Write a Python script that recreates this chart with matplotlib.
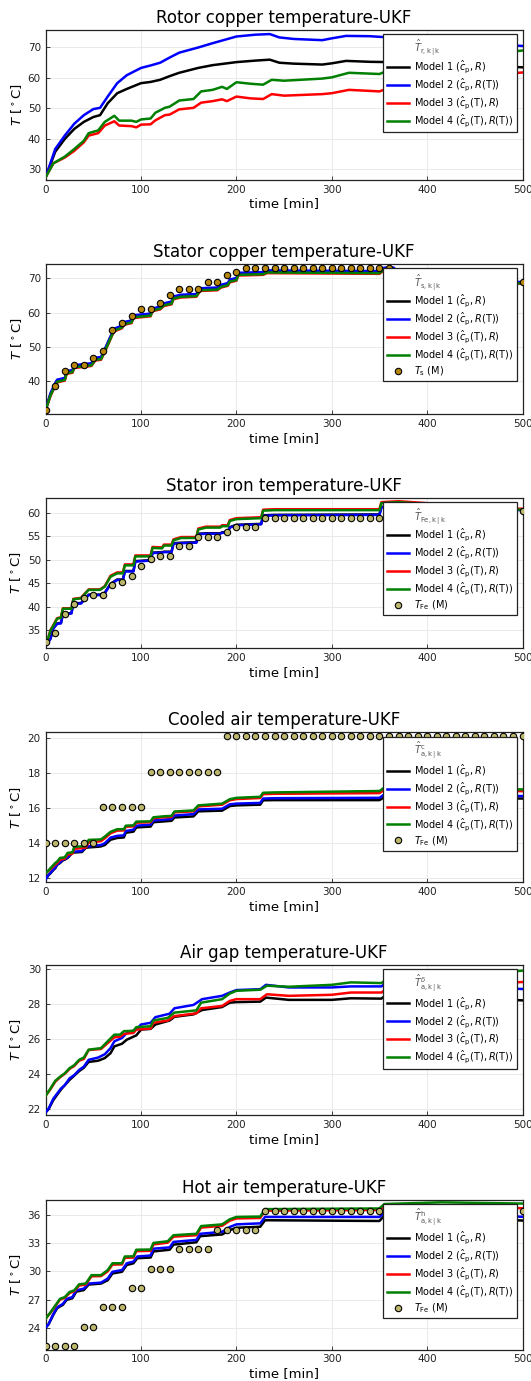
import numpy as np
import matplotlib.pyplot as plt
from matplotlib.lines import Line2D

# ---- rotor copper (no measurements) ----
rotor_t12 = [0, 10, 20, 30, 40, 50, 57, 65, 75, 85, 100, 110, 120, 130, 140, 160, 175, 200,
             220, 235, 245, 260, 290, 300, 315, 340, 360, 400, 450, 500]
rotor_m1 = [27.5, 35.8, 40.0, 43.3, 45.6, 47.2, 47.8, 51.7, 55.0, 56.4, 58.3, 58.7, 59.4, 60.6,
            61.7, 63.3, 64.2, 65.2, 65.7, 66.0, 65.0, 64.7, 64.4, 64.8, 65.6, 65.3, 65.2, 64.5,
            64.0, 63.5]
rotor_m2 = [27.5, 36.7, 41.1, 45.0, 47.8, 49.8, 50.2, 53.9, 58.3, 60.9, 63.3, 64.1, 65.0, 66.7,
            68.3, 70.0, 71.4, 73.6, 74.2, 74.4, 73.3, 72.8, 72.4, 73.0, 73.8, 73.7, 73.3, 72.5,
            71.5, 70.5]
rotor_t34 = [0, 8, 20, 30, 40, 45, 55, 62, 72, 77, 90, 95, 100, 110, 115, 125, 130, 140, 155,
             163, 175, 185, 190, 200, 215, 228, 237, 250, 290, 300, 318, 350, 360, 400, 450, 500]
rotor_m3 = [27.5, 32.0, 33.9, 36.1, 38.9, 41.1, 41.9, 44.4, 45.8, 44.4, 44.2, 43.8, 44.7, 44.8,
            46.1, 47.8, 48.0, 49.7, 50.2, 51.9, 52.4, 53.0, 52.4, 53.9, 53.3, 53.1, 54.7, 54.2,
            54.7, 55.0, 56.1, 55.6, 56.7, 58.5, 60.5, 61.8]
rotor_m4 = [27.5, 32.0, 34.2, 36.7, 39.4, 41.9, 42.8, 45.6, 47.6, 46.0, 46.0, 45.6, 46.4, 46.7,
            48.6, 50.2, 50.6, 52.6, 53.1, 55.6, 56.1, 57.1, 56.4, 58.6, 58.1, 57.8, 59.4, 59.1,
            59.8, 60.2, 61.7, 61.3, 62.6, 65.0, 67.5, 69.0]

# ---- stator copper ----
stcu_t = [0, 5, 10, 12, 20, 22, 28, 30, 48, 52, 58, 62, 70, 72, 80, 82, 90, 92, 110, 112, 120,
          124, 132, 134, 142, 158, 162, 180, 184, 191, 193, 200, 202, 228, 232, 350, 355, 365,
          375, 500]
stcu_m1 = [31.7, 36.2, 39.2, 40.2, 40.7, 42.7, 43.0, 44.4, 45.0, 46.6, 46.8, 49.1, 54.1, 55.1,
           56.0, 57.0, 57.5, 59.0, 59.5, 61.0, 61.5, 62.5, 63.0, 64.5, 65.0, 65.2, 66.9, 67.1,
           67.9, 68.4, 69.4, 69.9, 71.4, 71.6, 72.1, 71.9, 72.9, 72.9, 69.7, 68.8]
stcu_m2 = [31.8, 36.4, 39.4, 40.4, 40.9, 42.9, 43.2, 44.6, 45.2, 46.8, 47.0, 49.3, 54.3, 55.3,
           56.2, 57.2, 57.7, 59.2, 59.7, 61.2, 61.7, 62.7, 63.2, 64.7, 65.2, 65.4, 67.1, 67.3,
           68.1, 68.6, 69.6, 70.1, 71.6, 71.8, 72.3, 72.1, 73.1, 73.1, 69.9, 68.9]
stcu_m3 = [31.5, 35.6, 38.6, 39.6, 40.1, 42.1, 42.4, 43.8, 44.4, 46.0, 46.2, 48.5, 53.5, 54.5,
           55.4, 56.4, 56.9, 58.4, 58.9, 60.4, 60.9, 61.9, 62.4, 63.9, 64.4, 64.6, 66.3, 66.5,
           67.3, 67.8, 68.8, 69.3, 70.8, 71.0, 71.5, 71.3, 72.3, 72.3, 69.1, 68.4]
stcu_m4 = [31.5, 35.8, 38.8, 39.8, 40.3, 42.3, 42.6, 44.0, 44.6, 46.2, 46.4, 48.7, 53.7, 54.7,
           55.6, 56.6, 57.1, 58.6, 59.1, 60.6, 61.1, 62.1, 62.6, 64.1, 64.6, 64.8, 66.5, 66.7,
           67.5, 68.0, 69.0, 69.5, 71.0, 71.2, 71.7, 71.5, 72.5, 72.5, 69.3, 68.5]
stcu_meas = ([31.6, 38.5, 42.8, 44.8, 44.8, 46.7, 48.9, 54.9, 57.0, 59.0, 61.0, 61.0, 62.8,
              65.0, 66.9, 66.9, 66.9, 68.9, 68.9, 71.0, 71.7]
             + [73.0] * 16 + [68.8] * 14)

# ---- stator iron ----
stfe_t = [0, 3, 5, 8, 12, 16, 18, 27, 29, 37, 40, 45, 57, 62, 68, 75, 81, 83, 92, 94, 110, 112,
          122, 124, 132, 134, 142, 158, 160, 168, 183, 185, 191, 193, 200, 226, 228, 240, 350,
          352, 370, 420, 480, 500]
stfe_m1 = [31.9, 32.7, 33.3, 35.5, 36.5, 36.6, 38.5, 38.7, 40.8, 40.8, 41.5, 42.6, 42.6, 43.0,
           44.9, 45.8, 45.8, 47.6, 47.6, 49.7, 49.9, 51.5, 51.6, 51.7, 51.7, 53.5, 53.6, 53.7,
           55.5, 55.6, 55.6, 55.8, 55.9, 56.9, 57.4, 57.6, 59.4, 59.5, 59.6, 61.2, 61.3, 61.0,
           60.7, 60.6]
stfe_m2 = [31.9, 32.6, 33.2, 35.4, 36.4, 36.5, 38.4, 38.6, 40.7, 40.7, 41.4, 42.5, 42.5, 42.9,
           44.8, 45.7, 45.7, 47.5, 47.5, 49.6, 49.8, 51.4, 51.5, 51.6, 51.6, 53.4, 53.5, 53.6,
           55.4, 55.5, 55.5, 55.7, 55.8, 56.8, 57.3, 57.5, 59.3, 59.4, 59.5, 61.1, 61.2, 60.9,
           60.6, 60.5]
stfe_m3 = [32.5, 33.6, 35.1, 36.1, 37.6, 37.8, 39.7, 39.7, 41.7, 41.9, 42.6, 43.7, 43.7, 44.4,
           46.6, 47.3, 47.3, 49.0, 49.0, 50.9, 50.9, 52.7, 52.6, 53.2, 53.2, 54.3, 54.8, 54.8,
           56.6, 57.0, 57.0, 57.3, 57.3, 58.4, 58.8, 59.0, 60.6, 60.7, 60.7, 62.2, 62.4, 61.7,
           60.9, 60.8]
stfe_m4 = [32.5, 33.6, 35.0, 36.0, 37.5, 37.7, 39.6, 39.6, 41.6, 41.8, 42.5, 43.6, 43.6, 44.3,
           46.4, 47.1, 47.1, 48.8, 48.8, 50.7, 50.7, 52.5, 52.4, 53.0, 53.0, 54.1, 54.6, 54.6,
           56.4, 56.8, 56.8, 57.1, 57.1, 58.2, 58.6, 58.8, 60.4, 60.5, 60.5, 62.0, 62.2, 61.5,
           60.7, 60.6]
stfe_meas = ([32.5, 34.5, 38.5, 40.6, 41.8, 42.6, 42.6, 44.6, 45.2, 46.6, 48.7, 50.2, 50.7,
              50.7, 52.8, 52.8, 54.8, 54.8, 54.8, 55.9, 56.9, 56.9, 56.9]
             + [58.9] * 13 + [60.4] * 15)

# ---- cooled air ----
cool_t = [0, 3, 5, 8, 10, 12, 15, 18, 20, 23, 28, 30, 38, 42, 45, 55, 58, 62, 68, 75, 82, 84,
          92, 95, 110, 113, 125, 132, 135, 155, 160, 185, 193, 200, 225, 228, 240, 350, 355, 500]
cool_m1 = [11.95, 12.18, 12.28, 12.47, 12.57, 12.76, 12.87, 13.02, 13.06, 13.16, 13.45, 13.47,
           13.5, 13.74, 13.76, 13.8, 13.82, 13.9, 14.2, 14.3, 14.33, 14.6, 14.66, 14.9, 14.95,
           15.2, 15.25, 15.28, 15.47, 15.53, 15.82, 15.86, 16.12, 16.16, 16.2, 16.45, 16.46,
           16.46, 16.62, 16.55]
cool_m2 = [11.95, 12.2, 12.3, 12.5, 12.6, 12.8, 12.9, 13.06, 13.1, 13.2, 13.5, 13.52, 13.55,
           13.8, 13.82, 13.88, 13.9, 14.0, 14.32, 14.42, 14.45, 14.7, 14.77, 15.0, 15.06, 15.3,
           15.35, 15.39, 15.58, 15.66, 15.93, 15.97, 16.22, 16.26, 16.3, 16.55, 16.57, 16.59,
           16.78, 16.69]
cool_m3 = [12.29, 12.42, 12.52, 12.68, 12.78, 12.86, 13.05, 13.1, 13.12, 13.35, 13.4, 13.68,
           13.72, 13.75, 14.05, 14.1, 14.12, 14.28, 14.57, 14.72, 14.73, 14.94, 14.96, 15.17,
           15.2, 15.43, 15.49, 15.5, 15.76, 15.82, 16.1, 16.2, 16.45, 16.52, 16.58, 16.8, 16.82,
           16.86, 17.05, 16.97]
cool_m4 = [12.29, 12.45, 12.58, 12.75, 12.87, 12.95, 13.16, 13.18, 13.2, 13.45, 13.48, 13.8,
           13.82, 13.84, 14.19, 14.21, 14.22, 14.38, 14.65, 14.8, 14.8, 15.0, 15.02, 15.23,
           15.25, 15.48, 15.54, 15.56, 15.81, 15.87, 16.16, 16.26, 16.51, 16.59, 16.65, 16.88,
           16.9, 16.98, 17.17, 17.07]
cool_meas = [14.03] * 6 + [16.05] * 5 + [18.07] * 8 + [20.13] * 32

# ---- air gap ----
gap_t12 = [0, 3, 8, 12, 16, 20, 25, 30, 35, 40, 45, 55, 62, 68, 72, 80, 85, 95, 100, 110, 115,
           130, 135, 155, 164, 185, 193, 200, 225, 231, 255, 300, 320, 352, 358, 500]
gap_m1 = [21.8, 21.98, 22.5, 22.8, 23.1, 23.35, 23.65, 23.9, 24.15, 24.35, 24.68, 24.75, 24.9,
          25.18, 25.57, 25.72, 25.95, 26.2, 26.53, 26.57, 26.82, 27.05, 27.26, 27.4, 27.65,
          27.82, 28.07, 28.1, 28.13, 28.36, 28.23, 28.23, 28.32, 28.3, 28.55, 28.2]
gap_m2 = [21.8, 22.0, 22.58, 22.87, 23.16, 23.35, 23.74, 23.93, 24.22, 24.41, 24.8, 24.93,
          25.12, 25.47, 25.86, 26.05, 26.34, 26.53, 26.82, 26.92, 27.24, 27.44, 27.75, 27.94,
          28.27, 28.46, 28.65, 28.79, 28.84, 29.09, 28.94, 28.94, 29.0, 29.0, 29.23, 28.85]
gap_t34 = [0, 5, 10, 15, 20, 25, 30, 35, 40, 45, 58, 65, 72, 78, 82, 92, 95, 110, 113, 128, 135,
           158, 163, 185, 193, 200, 225, 232, 255, 300, 320, 352, 358, 500]
gap_m3 = [22.75, 23.12, 23.55, 23.8, 24.0, 24.28, 24.45, 24.75, 24.85, 25.36, 25.42, 25.76,
          26.09, 26.12, 26.28, 26.34, 26.53, 26.59, 26.92, 27.05, 27.3, 27.46, 27.75, 27.88,
          28.17, 28.27, 28.27, 28.55, 28.46, 28.52, 28.65, 28.65, 28.88, 29.25]
gap_m4 = [22.75, 23.16, 23.6, 23.83, 24.03, 24.32, 24.5, 24.8, 24.93, 25.38, 25.47, 25.86,
          26.24, 26.24, 26.44, 26.46, 26.67, 26.72, 27.05, 27.2, 27.5, 27.63, 28.07, 28.27,
          28.59, 28.75, 28.81, 29.04, 28.98, 29.09, 29.23, 29.19, 29.42, 29.9]

# ---- hot air ----
hot_t12 = [0, 3, 8, 12, 18, 22, 28, 32, 40, 45, 58, 65, 70, 80, 85, 92, 96, 110, 113, 130, 134,
           158, 162, 185, 193, 200, 225, 230, 350, 355, 500]
hot_m1 = [24.03, 24.38, 25.4, 26.1, 26.45, 26.98, 27.15, 27.85, 28.02, 28.6, 28.71, 29.06,
          29.78, 29.96, 30.68, 30.86, 31.4, 31.47, 32.12, 32.3, 32.84, 33.09, 33.74, 33.92,
          34.38, 34.63, 34.74, 35.43, 35.35, 35.9, 35.4]
hot_m2 = [24.03, 24.4, 25.47, 26.19, 26.55, 27.09, 27.27, 27.99, 28.17, 28.71, 28.81, 29.24,
          29.96, 30.14, 30.86, 31.04, 31.58, 31.69, 32.41, 32.55, 33.13, 33.34, 33.99, 34.2,
          34.71, 34.99, 35.1, 35.78, 35.78, 36.2, 35.8]
hot_t34 = [0, 5, 10, 15, 20, 25, 30, 35, 42, 48, 58, 65, 70, 80, 83, 92, 95, 110, 113, 128, 134,
           158, 163, 185, 193, 200, 225, 230, 350, 355, 415, 500]
hot_m3 = [25.0, 25.6, 26.3, 27.0, 27.2, 27.7, 27.9, 28.5, 28.6, 29.48, 29.5, 30.0, 30.72,
          30.74, 31.44, 31.47, 32.15, 32.18, 32.86, 33.05, 33.68, 33.84, 34.65, 34.84, 35.38,
          35.62, 35.67, 36.45, 36.52, 36.9, 37.0, 36.7]
hot_m4 = [25.0, 25.65, 26.37, 27.09, 27.27, 27.81, 27.99, 28.63, 28.71, 29.6, 29.6, 30.14,
          30.86, 30.86, 31.58, 31.6, 32.3, 32.32, 33.02, 33.2, 33.84, 33.99, 34.81, 34.99,
          35.53, 35.78, 35.82, 36.61, 36.68, 37.15, 37.33, 37.2]
hot_meas = ([22.13] * 4 + [24.14] * 2 + [26.19] * 3 + [28.24] * 2 + [30.25] * 3 + [32.37] * 4
            + [34.38] * 5 + [36.43] * 28)

meas_t = np.arange(0, 501, 10)

model_labels = [r"Model 1 ($\hat{c}_{\mathrm{p}}, R$)",
                r"Model 2 ($\hat{c}_{\mathrm{p}}, R(\mathrm{T})$)",
                r"Model 3 ($\hat{c}_{\mathrm{p}}(\mathrm{T}), R$)",
                r"Model 4 ($\hat{c}_{\mathrm{p}}(\mathrm{T}), R(\mathrm{T})$)"]
model_colors = ["black", "blue", "red", "green"]

panels = [
    dict(title="Rotor copper temperature-UKF", ylim=(26.6, 75.8), yticks=[30, 40, 50, 60, 70],
         est=[(rotor_t12, rotor_m1), (rotor_t12, rotor_m2), (rotor_t34, rotor_m3),
              (rotor_t34, rotor_m4)],
         head=r"$\hat{T}_{\mathrm{r,k\,|\,k}}$", meas=None),
    dict(title="Stator copper temperature-UKF", ylim=(30.4, 74.2), yticks=[40, 50, 60, 70],
         est=[(stcu_t, stcu_m1), (stcu_t, stcu_m2), (stcu_t, stcu_m3), (stcu_t, stcu_m4)],
         head=r"$\hat{T}_{\mathrm{s,k\,|\,k}}$", meas=stcu_meas,
         mlabel=r"$T_{\mathrm{s}}$ (M)", mcolor="#b8860b"),
    dict(title="Stator iron temperature-UKF", ylim=(31.3, 63.1), yticks=[35, 40, 45, 50, 55, 60],
         est=[(stfe_t, stfe_m1), (stfe_t, stfe_m2), (stfe_t, stfe_m3), (stfe_t, stfe_m4)],
         head=r"$\hat{T}_{\mathrm{Fe,k\,|\,k}}$", meas=stfe_meas,
         mlabel=r"$T_{\mathrm{Fe}}$ (M)", mcolor="#bdb76b"),
    dict(title="Cooled air temperature-UKF", ylim=(11.77, 20.33), yticks=[12, 14, 16, 18, 20],
         est=[(cool_t, cool_m1), (cool_t, cool_m2), (cool_t, cool_m3), (cool_t, cool_m4)],
         head=r"$\hat{T}^{\mathrm{c}}_{\mathrm{a,k\,|\,k}}$", meas=cool_meas,
         mlabel=r"$T_{\mathrm{Fe}}$ (M)", mcolor="#bdb76b"),
    dict(title="Air gap temperature-UKF", ylim=(21.65, 30.23), yticks=[22, 24, 26, 28, 30],
         est=[(gap_t12, gap_m1), (gap_t12, gap_m2), (gap_t34, gap_m3), (gap_t34, gap_m4)],
         head=r"$\hat{T}^{\delta}_{\mathrm{a,k\,|\,k}}$", meas=None),
    dict(title="Hot air temperature-UKF", ylim=(21.7, 37.62), yticks=[24, 27, 30, 33, 36],
         est=[(hot_t12, hot_m1), (hot_t12, hot_m2), (hot_t34, hot_m3), (hot_t34, hot_m4)],
         head=r"$\hat{T}^{\mathrm{h}}_{\mathrm{a,k\,|\,k}}$", meas=hot_meas,
         mlabel=r"$T_{\mathrm{Fe}}$ (M)", mcolor="#bdb76b"),
]

W, H = 531, 1381
fig = plt.figure(figsize=(W / 100, H / 100), dpi=100)
tops = [29.8, 263.9, 497.9, 732.3, 964.9, 1199.6]
left_px, right_px, ax_h = 45.7, 522.5, 150.0

for p, top in zip(panels, tops):
    ax = fig.add_axes([left_px / W, 1 - (top + ax_h) / H, (right_px - left_px) / W, ax_h / H])
    handles = [Line2D([], [], color="none", label=p["head"])]
    for (t, v), c, lab in zip(p["est"], model_colors, model_labels):
        h, = ax.plot(t, v, color=c, lw=1.8, label=lab, zorder=3)
        handles.append(h)
    if p["meas"] is not None:
        h, = ax.plot(meas_t, p["meas"], ls="none", marker="o", ms=4.6, mfc=p["mcolor"],
                     mec="black", mew=0.8, label=p["mlabel"], zorder=4)
        handles.append(h)

    ax.set_xlim(0, 500)
    ax.set_ylim(*p["ylim"])
    ax.set_xticks([0, 100, 200, 300, 400, 500])
    ax.set_yticks(p["yticks"])
    ax.grid(True, color="#e6e6e6", lw=0.6)
    ax.set_axisbelow(True)
    ax.tick_params(direction="in", length=3, width=0.6, labelsize=7.5, colors="#222222")
    for s in ax.spines.values():
        s.set_linewidth(0.9)
        s.set_color("#222222")
    ax.set_title(p["title"], fontsize=12, pad=5)
    ax.set_xlabel("time [min]", fontsize=9.5, labelpad=2)
    ax.set_ylabel(r"$T$ [$^\circ$C]", fontsize=9.5, labelpad=3)

    leg = ax.legend(handles=handles, loc="upper right", bbox_to_anchor=(0.989, 0.971),
                    fontsize=7, frameon=True, fancybox=False, framealpha=1,
                    edgecolor="#222222", handlelength=2.3, handletextpad=0.55,
                    labelspacing=0.13, borderpad=0.35, borderaxespad=0)
    leg.get_frame().set_linewidth(0.9)
    leg.set_zorder(10)
    leg.get_texts()[0].set_color("#555555")

fig.savefig("out.png", dpi=100)
